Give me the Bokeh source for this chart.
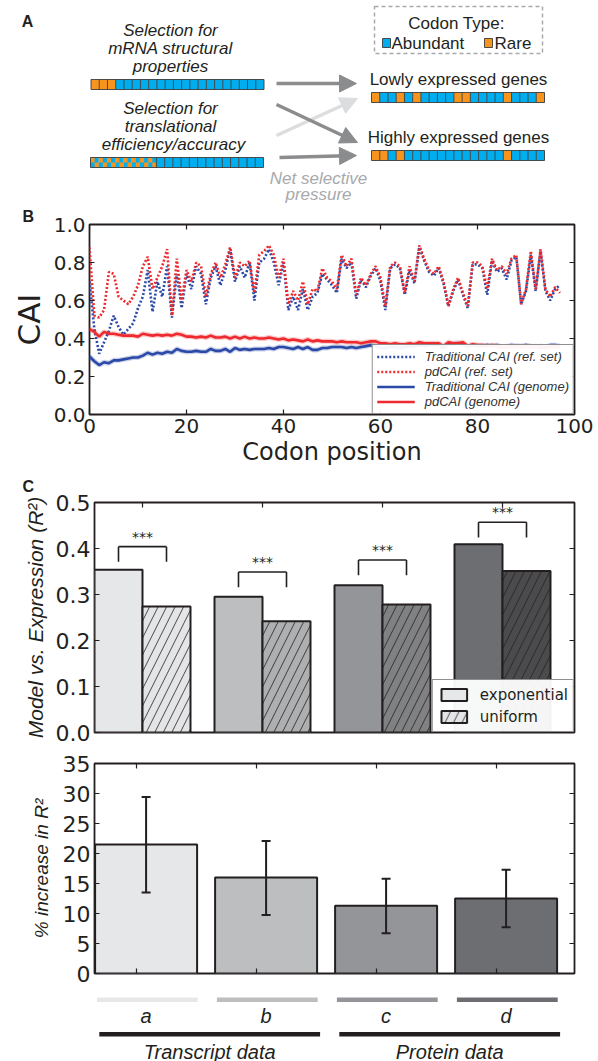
import math
from bokeh.plotting import figure
from bokeh.models import (Range1d, FixedTicker, Legend, LegendItem,
                          ColumnDataSource, Whisker, TeeHead, Arrow, NormalHead,
                          PrintfTickFormatter)
from bokeh.core.properties import value
from bokeh.embed import file_html
from bokeh.resources import INLINE

# ---------------- data ----------------
# Panel A: codon strings (A = abundant, R = rare, M = mixed)
strip_structural = list("RRR" + "A" * 18)
strip_translational = list("M" * 8 + "A" * 13)
strip_lowly = list("RAARARAAAARRAAAARAAAR")
strip_highly = list("RRARAAAAAAAAAAAARAAAA")

# Panel B: CAI along codon position
codon_pos = list(range(98))
pdcai_ref = [0.88, 0.52, 0.51, 0.55, 0.75, 0.74, 0.62, 0.60, 0.58, 0.62,
             0.68, 0.78, 0.83, 0.66, 0.72, 0.78, 0.87, 0.52, 0.82, 0.60,
             0.76, 0.70, 0.80, 0.78, 0.62, 0.74, 0.80, 0.72, 0.79, 0.88,
             0.72, 0.80, 0.78, 0.81, 0.64, 0.84, 0.86, 0.89, 0.84, 0.72,
             0.82, 0.58, 0.65, 0.60, 0.70, 0.58, 0.66, 0.65, 0.77, 0.72,
             0.70, 0.66, 0.84, 0.78, 0.82, 0.63, 0.72, 0.68, 0.74, 0.78,
             0.72, 0.57, 0.78, 0.80, 0.78, 0.64, 0.78, 0.70, 0.89, 0.82,
             0.76, 0.74, 0.78, 0.70, 0.57, 0.66, 0.72, 0.64, 0.57, 0.80,
             0.80, 0.78, 0.66, 0.82, 0.76, 0.78, 0.74, 0.82, 0.84, 0.58,
             0.66, 0.86, 0.66, 0.87, 0.66, 0.62, 0.67, 0.64]
cai_ref = [0.70, 0.45, 0.32, 0.38, 0.44, 0.52, 0.46, 0.42, 0.45, 0.48,
           0.56, 0.62, 0.76, 0.54, 0.70, 0.62, 0.78, 0.51, 0.74, 0.56,
           0.74, 0.66, 0.78, 0.74, 0.58, 0.72, 0.78, 0.68, 0.76, 0.87,
           0.70, 0.78, 0.72, 0.80, 0.60, 0.80, 0.82, 0.87, 0.80, 0.68,
           0.80, 0.55, 0.62, 0.55, 0.66, 0.55, 0.62, 0.64, 0.74, 0.71,
           0.68, 0.64, 0.82, 0.77, 0.80, 0.61, 0.71, 0.67, 0.73, 0.77,
           0.70, 0.55, 0.77, 0.79, 0.77, 0.63, 0.76, 0.69, 0.88, 0.81,
           0.75, 0.73, 0.77, 0.69, 0.57, 0.65, 0.71, 0.63, 0.56, 0.79,
           0.79, 0.77, 0.63, 0.81, 0.75, 0.77, 0.71, 0.81, 0.83, 0.58,
           0.65, 0.84, 0.65, 0.86, 0.65, 0.60, 0.66, 0.68]
pdcai_genome = [0.450, 0.435, 0.410, 0.435, 0.425, 0.425, 0.420, 0.415, 0.415, 0.415,
                0.410, 0.425, 0.420, 0.415, 0.420, 0.415, 0.420, 0.415, 0.425, 0.420,
                0.410, 0.410, 0.405, 0.410, 0.405, 0.415, 0.405, 0.405, 0.410, 0.400,
                0.410, 0.400, 0.410, 0.400, 0.405, 0.400, 0.400, 0.405, 0.400, 0.395,
                0.400, 0.390, 0.395, 0.390, 0.385, 0.395, 0.385, 0.390, 0.385, 0.385,
                0.385, 0.380, 0.385, 0.380, 0.380, 0.380, 0.375, 0.380, 0.385, 0.385,
                0.375, 0.375, 0.370, 0.375, 0.370, 0.370, 0.375, 0.370, 0.380, 0.375,
                0.375, 0.375, 0.375, 0.360, 0.380, 0.375, 0.375, 0.380, 0.360, 0.370,
                0.365, 0.365, 0.360, 0.365, 0.360, 0.350, 0.360, 0.355, 0.360, 0.355,
                0.360, 0.355, 0.360, 0.350, 0.355, 0.355, 0.355, 0.355]
cai_genome = [0.305, 0.280, 0.260, 0.275, 0.270, 0.285, 0.285, 0.290, 0.295, 0.300,
              0.300, 0.310, 0.325, 0.315, 0.325, 0.320, 0.330, 0.325, 0.345, 0.335,
              0.330, 0.330, 0.335, 0.330, 0.330, 0.345, 0.335, 0.335, 0.345, 0.330,
              0.350, 0.340, 0.345, 0.340, 0.345, 0.345, 0.345, 0.350, 0.345, 0.355,
              0.355, 0.350, 0.345, 0.355, 0.345, 0.355, 0.340, 0.340, 0.350, 0.350,
              0.355, 0.355, 0.355, 0.350, 0.355, 0.350, 0.355, 0.360, 0.365, 0.360,
              0.350, 0.350, 0.355, 0.355, 0.350, 0.355, 0.360, 0.360, 0.365, 0.360,
              0.365, 0.365, 0.365, 0.350, 0.370, 0.370, 0.375, 0.370, 0.355, 0.365,
              0.360, 0.360, 0.365, 0.360, 0.365, 0.355, 0.355, 0.365, 0.360, 0.360,
              0.365, 0.360, 0.355, 0.360, 0.350, 0.365, 0.365, 0.360]
b_xticks = [0, 20, 40, 60, 80, 100]
b_yticks = [0, 0.2, 0.4, 0.6, 0.8, 1.0]

# Panel C
datasets = ["a", "b", "c", "d"]
r2_exponential = [0.354, 0.295, 0.320, 0.409]
r2_uniform = [0.274, 0.242, 0.278, 0.351]
bracket_top = [0.404, 0.349, 0.375, 0.457]
pct_increase = [21.5, 16.0, 11.3, 12.5]
pct_low = [13.5, 9.75, 6.7, 7.7]
pct_high = [29.4, 22.1, 15.8, 17.3]
c_yticks = [0, 0.1, 0.2, 0.3, 0.4, 0.5]
d_yticks = [0, 5, 10, 15, 20, 25, 30, 35]
exp_colors = ["#e6e7e8", "#bcbec0", "#939598", "#6d6e71"]
uni_colors = ["#e4e5e6", "#adafb0", "#808183", "#4b4b4d"]
groups = ["Transcript data", "Protein data"]
group_members = [[0, 1], [2, 3]]

# ---------------- style ----------------
W = 598
SANS = "Liberation Sans"
MPL = "DejaVu Sans"
INK = "#231f20"
BLUE = "#00aeef"
ORANGE = "#f7941d"
RED = "#ee2a2e"
NAVY = "#2b49a6"


def base_fig(height, xr, yr, left, right, top, bottom, **kw):
    p = figure(width=W, height=height, x_range=xr, y_range=yr,
               output_backend="svg", toolbar_location=None,
               min_border_left=left, min_border_right=right,
               min_border_top=top, min_border_bottom=bottom, **kw)
    p.grid.visible = False
    p.background_fill_color = "white"
    p.border_fill_color = "white"
    return p


def style_axes(p, label_size):
    p.outline_line_color = INK
    p.outline_line_width = 1.8
    for ax in p.axis:
        ax.axis_line_color = None
        ax.major_tick_in = 5
        ax.major_tick_out = 0
        ax.minor_tick_line_color = None
        ax.major_tick_line_color = INK
        ax.major_tick_line_width = 1.2
        ax.major_label_text_font = MPL
        ax.major_label_text_color = INK
        ax.major_label_text_font_size = label_size
        ax.major_label_standoff = 4
        ax.axis_label_text_color = INK


def inner_ticks(p, xs, ys, angle):
    # tick marks on the opposite sides: half of each dash is clipped by the frame
    p.scatter(x=xs, y=ys, marker="dash", angle=angle, size=10,
              line_color=INK, line_width=1.2)


def panel_title(p, letter, offset, standoff, valign="bottom"):
    p.title.text = letter
    p.title.text_font = SANS
    p.title.text_font_style = "bold"
    p.title.text_font_size = "16px"
    p.title.text_color = INK
    p.title.align = "left"
    p.title.vertical_align = valign
    p.title.offset = offset
    p.title.standoff = standoff


# ---------------- Panel A ----------------
pA = base_fig(205, Range1d(0, 598), Range1d(205, 0), 0, 0, 0, 0,
              x_axis_type=None, y_axis_type=None)
pA.outline_line_color = None


def draw_strip(p, seq, x0, x1, y0, y1):
    n = len(seq)
    w = (x1 - x0) / n
    lefts = [x0 + i * w for i in range(n)]
    rights = [l + w for l in lefts]
    cols = [ORANGE if c == "R" else BLUE for c in seq]
    p.quad(left=lefts, right=rights, top=y0, bottom=y1, fill_color=cols, line_color=None)
    ql, qr, qt, qb = [], [], [], []
    ym = (y0 + y1) / 2
    for i, c in enumerate(seq):
        if c == "M":
            l = lefts[i]
            ql += [l, l + w / 2]
            qr += [l + w / 2, l + w]
            qt += [y0, ym]
            qb += [ym, y1]
    if ql:
        p.quad(left=ql, right=qr, top=qt, bottom=qb, fill_color=ORANGE, line_color=None)
    edges = [s for i, s in enumerate(lefts) if seq[i] != "M" or i == 0] + [x1]
    p.segment(x0=edges, x1=edges, y0=y0, y1=y1, line_color="#3b3b3b", line_width=0.9)
    p.segment(x0=[x0, x0], x1=[x1, x1], y0=[y0, y1], y1=[y0, y1],
              line_color="#3b3b3b", line_width=0.9)


draw_strip(pA, strip_structural, 90.5, 263.5, 79, 89)
draw_strip(pA, strip_translational, 90, 263, 157, 167)
draw_strip(pA, strip_lowly, 371, 544, 92, 102)
draw_strip(pA, strip_highly, 371, 544, 150, 160)

LIGHT = "#dcdddf"
DARK = "#8b8c8e"
for (xs, ys, xe, ye, c) in [(276, 135, 357, 98, LIGHT), (276, 83, 356, 83, DARK),
                            (276, 104, 357, 142, DARK), (279, 157, 356, 155, DARK)]:
    pA.add_layout(Arrow(end=NormalHead(size=17, fill_color=c, line_color=c),
                        x_start=xs, y_start=ys, x_end=xe, y_end=ye,
                        line_color=c, line_width=3.5))

pA.text(x=[170, 170, 170, 170, 170, 173], y=[30, 48, 66, 108, 126, 144],
        text=["Selection for", "mRNA structural", "properties",
              "Selection for", "translational", "efficiency/accuracy"],
        text_font=value(SANS), text_font_style="italic", text_font_size="17px",
        text_color=INK, text_align="center", text_baseline="middle")
pA.text(x=[318, 318], y=[178, 194], text=["Net selective", "pressure"],
        text_font=value(SANS), text_font_style="italic", text_font_size="17px",
        text_color="#a7a9ac", text_align="center", text_baseline="middle")
pA.text(x=[458, 458], y=[79, 137], text=["Lowly expressed genes", "Highly expressed genes"],
        text_font=value(SANS), text_font_size="17px",
        text_color=INK, text_align="center", text_baseline="middle")
pA.text(x=[27], y=[21], text=["A"], text_font=value(SANS), text_font_style="bold",
        text_font_size="16px", text_color=INK, text_align="center", text_baseline="middle")
pA.quad(left=[374], right=[542], top=[6], bottom=[53], fill_color=None,
        line_color="#a7a9ac", line_width=1.5, line_dash="4 3")
pA.text(x=[456], y=[23], text=["Codon Type:"], text_font=value(SANS), text_font_size="17px",
        text_color=INK, text_align="center", text_baseline="middle")
pA.quad(left=[382, 484], right=[390, 492], top=[38, 38], bottom=[47, 47],
        fill_color=[BLUE, ORANGE], line_color="#3b3b3b", line_width=0.9)
pA.text(x=[391, 494], y=[42.5, 42.5], text=["Abundant", "Rare"], text_font=value(SANS),
        text_font_size="17px", text_color=INK, text_align="left", text_baseline="middle")

# ---------------- Panel B ----------------
pB = base_fig(265, Range1d(0, 100), Range1d(0, 1), 89, 24, 18, 56)
srcB = ColumnDataSource(dict(x=codon_pos, cr=cai_ref, pr=pdcai_ref, cg=cai_genome, pg=pdcai_genome))
r_cr = pB.line("x", "cr", source=srcB, line_color=NAVY, line_width=2.6, line_dash="2 2")
r_pr = pB.line("x", "pr", source=srcB, line_color=RED, line_width=2.6, line_dash="2 2")
pB.line("x", "cg", source=srcB, line_color=NAVY, line_width=5, line_alpha=0.25)
pB.line("x", "pg", source=srcB, line_color=RED, line_width=5, line_alpha=0.25)
r_cg = pB.line("x", "cg", source=srcB, line_color=NAVY, line_width=2.6)
r_pg = pB.line("x", "pg", source=srcB, line_color=RED, line_width=2.6)
pB.xaxis.ticker = FixedTicker(ticks=b_xticks)
pB.yaxis.ticker = FixedTicker(ticks=b_yticks)
pB.yaxis.formatter = PrintfTickFormatter(format="%.1f")
pB.xaxis.axis_label = "Codon position"
pB.yaxis.axis_label = "CAI"
style_axes(pB, "20px")
pB.xaxis.axis_label_text_font = MPL
pB.xaxis.axis_label_text_font_style = "normal"
pB.xaxis.axis_label_text_font_size = "24px"
pB.xaxis.axis_label_standoff = 2
pB.yaxis.axis_label_text_font = MPL
pB.yaxis.axis_label_text_font_style = "normal"
pB.yaxis.axis_label_text_font_size = "31px"
pB.yaxis.axis_label_standoff = 4
inner_ticks(pB, b_xticks, [1.0] * len(b_xticks), math.pi / 2)
inner_ticks(pB, [100] * len(b_yticks), b_yticks, 0)
legB = Legend(items=[LegendItem(label="Traditional CAI (ref. set)", renderers=[r_cr]),
                     LegendItem(label="pdCAI (ref. set)", renderers=[r_pr]),
                     LegendItem(label="Traditional CAI (genome)", renderers=[r_cg]),
                     LegendItem(label="pdCAI (genome)", renderers=[r_pg])],
              location="bottom_right", margin=0, padding=4, spacing=0,
              border_line_color=INK, border_line_width=1.5,
              label_text_font=SANS, label_text_font_style="italic",
              label_text_font_size="13px", label_text_color="#333333",
              label_height=13, glyph_height=13, glyph_width=38, label_standoff=10)
pB.add_layout(legB)
panel_title(pB, "B", -67, 0)

# ---------------- Panel C (top) ----------------
idx = list(range(len(datasets)))
pC = base_fig(275, Range1d(0, 4), Range1d(0, 0.5), 94, 24, 32, 13, x_axis_location=None)
srcC = ColumnDataSource(dict(xe=[i + 0.2 for i in idx], xu=[i + 0.6 for i in idx],
                             exp=r2_exponential, uni=r2_uniform,
                             ce=exp_colors, cu=uni_colors))
r_exp = pC.vbar(x="xe", top="exp", width=0.4, source=srcC, fill_color="ce",
                line_color=INK, line_width=2)
r_uni = pC.vbar(x="xu", top="uni", width=0.4, source=srcC, fill_color="cu",
                line_color=INK, line_width=2, hatch_pattern="/", hatch_color=INK,
                hatch_scale=17, hatch_weight=0.8)
bx0, bx1, by0, by1 = [], [], [], []
for i, t in zip(idx, bracket_top):
    bx0 += [i + 0.2, i + 0.2, i + 0.6]
    bx1 += [i + 0.2, i + 0.6, i + 0.6]
    by0 += [t - 0.033, t, t]
    by1 += [t, t, t - 0.033]
pC.segment(x0=bx0, x1=bx1, y0=by0, y1=by1, line_color=INK, line_width=1.6)
pC.text(x=[i + 0.4 for i in idx], y=[t + 0.022 for t in bracket_top], text=["***"] * 4,
        text_font=value(MPL), text_font_size="14px", text_color=INK,
        text_align="center", text_baseline="middle")
pC.yaxis.ticker = FixedTicker(ticks=c_yticks)
pC.yaxis.formatter = PrintfTickFormatter(format="%.1f")
pC.yaxis.axis_label = "Model vs. Expression (R²)"
style_axes(pC, "22px")
pC.yaxis.axis_label_text_font = SANS
pC.yaxis.axis_label_text_font_style = "italic"
pC.yaxis.axis_label_text_font_size = "21px"
pC.yaxis.axis_label_standoff = 6
inner_ticks(pC, [i + 0.4 for i in idx], [0.5] * 4, math.pi / 2)
inner_ticks(pC, [4] * len(c_yticks), c_yticks, 0)
legC = Legend(items=[LegendItem(label="exponential", renderers=[r_exp], index=0),
                     LegendItem(label="uniform", renderers=[r_uni], index=0)],
              location="bottom_right", margin=0, padding=5, spacing=3,
              border_line_color=INK, border_line_width=1.5,
              label_text_font=MPL, label_text_font_size="15px", label_text_color=INK,
              label_height=19, glyph_height=15, glyph_width=32, label_standoff=10)
pC.add_layout(legC)
panel_title(pC, "C", -72, 12, "top")

# ---------------- Panel C (bottom) ----------------
xrD = Range1d(0, 4)
pD = base_fig(240, xrD, Range1d(0, 35), 94, 24, 18, 12, x_axis_location=None)
srcD = ColumnDataSource(dict(x=[i + 0.43 for i in idx], top=pct_increase,
                             lo=pct_low, hi=pct_high, c=exp_colors))
pD.vbar(x="x", top="top", width=0.85, source=srcD, fill_color="c",
        line_color=INK, line_width=2)
pD.add_layout(Whisker(base="x", lower="lo", upper="hi", source=srcD, level="overlay",
                      line_color=INK, line_width=2,
                      upper_head=TeeHead(size=9, line_color=INK, line_width=2),
                      lower_head=TeeHead(size=9, line_color=INK, line_width=2)))
pD.yaxis.ticker = FixedTicker(ticks=d_yticks)
pD.yaxis.axis_label = "% increase in R²"
style_axes(pD, "22px")
pD.yaxis.axis_label_text_font = SANS
pD.yaxis.axis_label_text_font_style = "italic"
pD.yaxis.axis_label_text_font_size = "19px"
pD.yaxis.axis_label_standoff = 8
inner_ticks(pD, [i + 0.35 for i in idx], [35] * 4, math.pi / 2)
inner_ticks(pD, [i + 0.35 for i in idx], [0] * 4, math.pi / 2)
inner_ticks(pD, [4] * len(d_yticks), d_yticks, 0)

# ---------------- category labels ----------------
pE = base_fig(76, xrD, Range1d(1061, 985), 94, 24, 0, 0,
              x_axis_type=None, y_axis_type=None)
pE.outline_line_color = None
pE.quad(left=[i + 0.02 for i in idx], right=[i + 0.86 for i in idx], top=997, bottom=1001.5,
        fill_color=exp_colors, line_color=None)
pE.text(x=[i + 0.43 for i in idx], y=[1015] * 4, text=datasets, text_font=value(SANS),
        text_font_style="italic", text_font_size="20px", text_color=INK,
        text_align="center", text_baseline="middle")
g_left = [min(m) + 0.04 for m in group_members]
g_right = [max(m) + 0.88 for m in group_members]
pE.quad(left=g_left, right=g_right, top=1031.5, bottom=1036, fill_color=INK, line_color=None)
pE.text(x=[(l + r) / 2 for l, r in zip(g_left, g_right)], y=[1051] * 2, text=groups,
        text_font=value(SANS), text_font_style="italic", text_font_size="20px",
        text_color=INK, text_align="center", text_baseline="middle")

open("out.html", "w").write(file_html([pA, pB, pC, pD, pE], INLINE))
